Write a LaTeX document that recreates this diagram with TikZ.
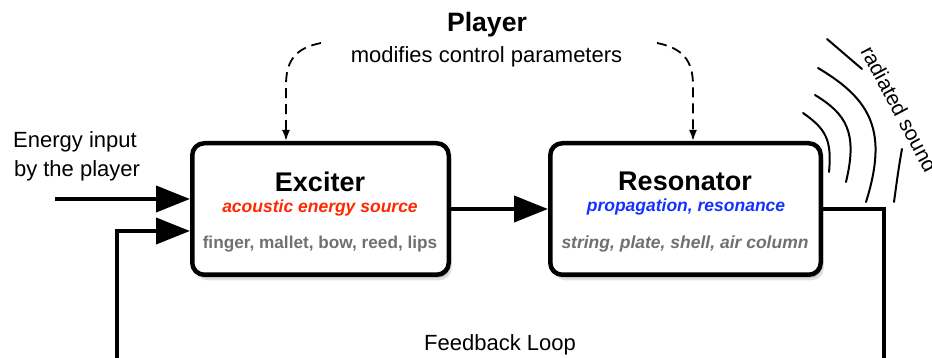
\documentclass[tikz,border=0pt]{standalone}
\usepackage{fontspec}
\setmainfont{Liberation Sans}
\usetikzlibrary{arrows.meta,shadows}
\definecolor{srcred}{RGB}{255,40,0}
\definecolor{propblue}{RGB}{20,50,255}
\definecolor{exgray}{RGB}{112,112,112}
\tikzset{
  blockbox/.style={draw=black, line width=4.5pt, rounded corners=12pt, fill=white,
    minimum height=131.5pt,
    drop shadow={shadow xshift=1.5pt, shadow yshift=-3pt, opacity=.22, fill=black},
    drop shadow={shadow xshift=3pt, shadow yshift=-5.5pt, opacity=.12, fill=black}},
  titletext/.style={anchor=base, inner sep=0pt, font=\fontsize{27}{30}\selectfont\bfseries},
  subtext/.style={anchor=base, inner sep=0pt, font=\fontsize{17.5}{20}\selectfont\bfseries\itshape},
  plaintext/.style={anchor=base, inner sep=0pt, font=\fontsize{22}{26}\selectfont},
  bigarrow/.style={line width=4pt, -{Triangle[length=34pt,width=26pt]}},
  thickline/.style={line width=4pt},
  ctrlarrow/.style={line width=1.8pt, dash pattern=on 10pt off 6pt, -{Latex[length=11pt,width=8pt]}},
  wave/.style={line width=2pt, line cap=round},
}
\begin{document}
\begin{tikzpicture}[x=1pt,y=-1pt]
\useasboundingbox (0,0) rectangle (932,358);

% blocks
\node[blockbox, minimum width=256.5pt] (exc) at (320.5,209) {};
\node[blockbox, minimum width=270.5pt] (res) at (685.5,209) {};

\node[titletext] (exct) at (320,192) {Exciter};
\node[subtext, text=srcred] (excs) at (320,213) {acoustic energy source};
\node[subtext, text=exgray, font=\fontsize{17.2}{20}\selectfont\bfseries] (exce) at (320,248) {finger, mallet, bow, reed, lips};

\node[titletext] (rest) at (685,191) {Resonator};
\node[subtext, text=propblue] (ress) at (686,212) {propagation, resonance};
\node[subtext, text=exgray] (rese) at (685,248) {string, plate, shell, air column};

% player
\node[anchor=base, inner sep=0pt, font=\fontsize{26.6}{30}\selectfont\bfseries] (pl) at (487,32) {Player};
\node[plaintext] (plm) at (486.5,63) {modifies control parameters};
\coordinate (pL) at (321,43);
\coordinate (pR) at (657,43);
\coordinate (bL) at (286,85);
\coordinate (bR) at (693,85);
\draw[ctrlarrow] (pL) .. controls (296,48) and (286,60) .. (bL) -- (bL |- exc.north);
\draw[ctrlarrow] (pR) .. controls (682,48) and (693,60) .. (bR) -- (bR |- res.north);

% energy input
\node[plaintext] (ei1) at (75,148) {Energy input};
\node[plaintext] (ei2) at (77,177) {by the player};
\coordinate (ein) at (55,199);
\draw[bigarrow] (ein) -- (ein -| exc.west);

% exciter -> resonator
\draw[bigarrow] (exc.east) -- (res.west);

% feedback loop
\coordinate (fbR) at (884,370);
\coordinate (fbL) at (117,370);
\coordinate (fbIn) at (117,231);
\draw[thickline] (res.east) -| (fbR);
\draw[bigarrow] (fbL) -- (fbIn) -- (fbIn -| exc.west);
\node[plaintext] (fbl) at (500,350) {Feedback Loop};

% radiated sound
\draw[wave] (803,113) .. controls (826,129) and (832,140) .. (829,172);
\draw[wave] (815,95) .. controls (846,114) and (858,132) .. (846,182);
\draw[wave] (818,68) .. controls (872,100) and (888,132) .. (866,202);
\draw[wave] (827,39) -- (862,69);
\draw[wave] (902,149) .. controls (899,165) and (897,180) .. (894,202);
\node[anchor=base west, inner sep=0pt, rotate=-62, font=\fontsize{21}{24}\selectfont] (rad) at (860,51) {radiated sound};
\end{tikzpicture}
\end{document}
